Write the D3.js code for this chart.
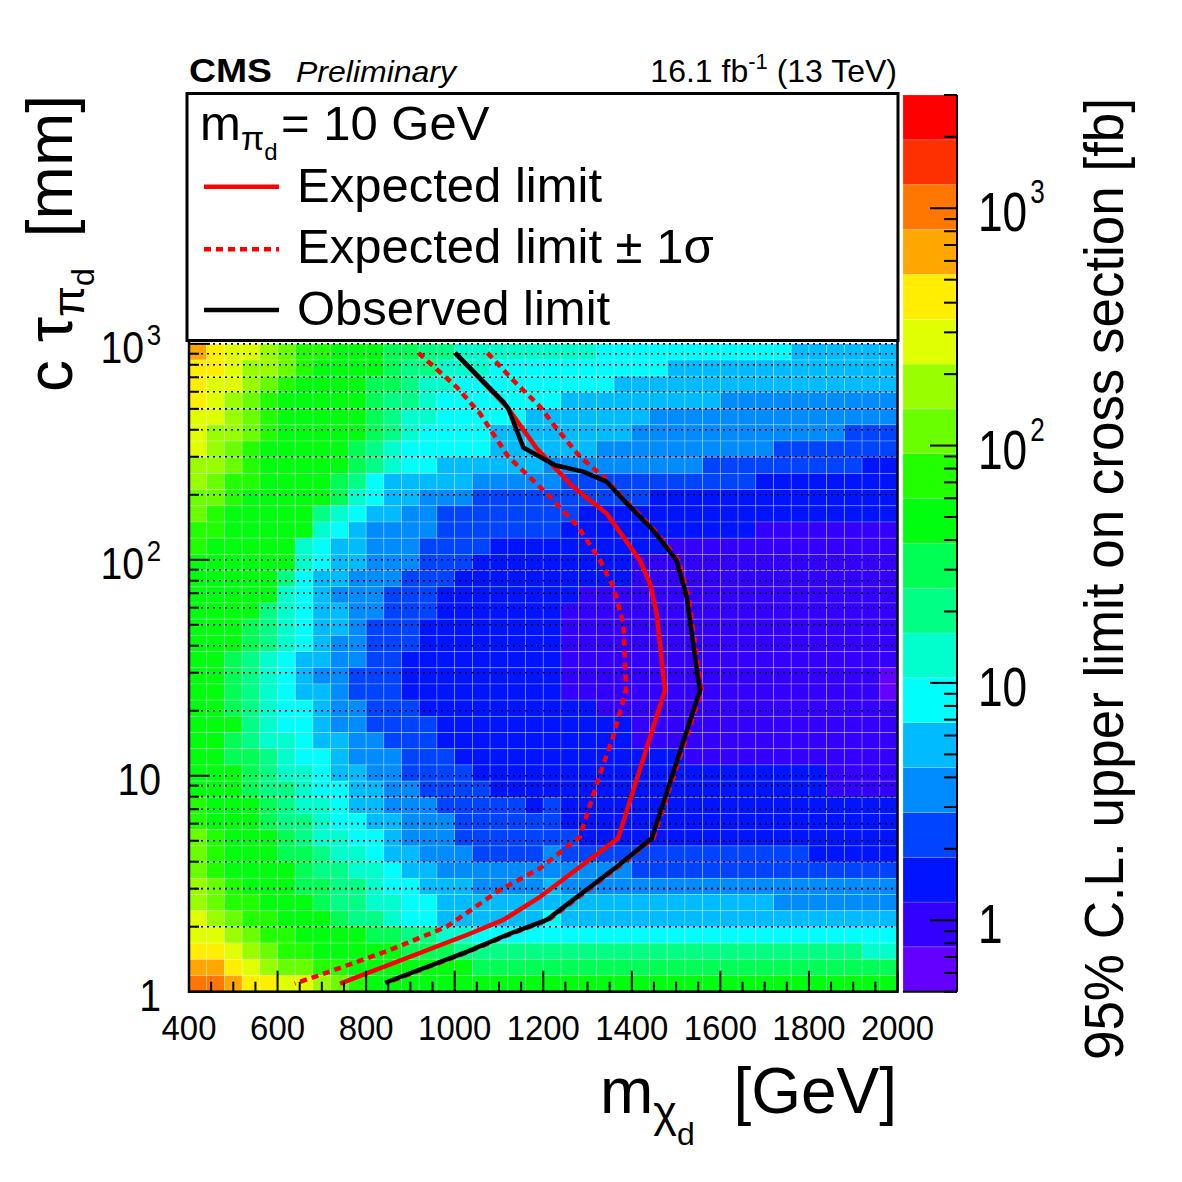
<!DOCTYPE html>
<html>
<head>
<meta charset="utf-8">
<title>CMS limit map</title>
<script src="https://cdn.jsdelivr.net/npm/d3@7"></script>
<style>
  body { margin: 0; background: #fff; }
  svg { display: block; font-family: "Liberation Sans", Arial, Helvetica, sans-serif; }
</style>
</head>
<body>
<svg width="1182" height="1182"></svg>
<script>
const svg = d3.select("svg");

// heatmap binning (40 x 40 cells, c tau binned in log)
const massEdges = d3.range(400, 2001, 40);
const ctauEdges = d3.range(41).map(i => Math.pow(10, 3 * i / 40));

// contour band read for every cell, 0 = lowest ... j = highest, top row first
const limitBands = [
  "gfeedcbbaa a998877777 7776666666 6666555555",
  "ffeddcbaaa a988777666 6666666555 5555555555",
  "feedcbaaaa 9987766666 6666555555 5555555555",
  "fedcbaaaaa 9887666666 6555555555 4444444444",
  "eedcbaaaaa 9877666665 5555554444 4444444444",
  "eddcbaaaaa 9876666555 5555544444 4444444333",
  "edcbaaaaa9 8766666555 5554444444 4443333333",
  "ddcbaaaaa9 8766555555 4444444443 3333333322",
  "dcbbaaaa98 6555554444 4333333333 3322222222",
  "ccbaaaaa97 6554443333 3333332222 2222222222",
  "cbaaaaa876 5544333333 3322222222 2222222222",
  "bbaaaaa765 4444333333 3222222222 2211111111",
  "baaaaa7655 4443333222 2222222111 1111111111",
  "aaaaaa7655 4443332222 2222211111 1111111111",
  "aaaaa86554 4433322222 2222211111 1111111111",
  "aaaaa76544 4333222222 2211111111 1111111111",
  "aaaa876554 4333222222 2111111111 1111111111",
  "aaa9876554 3332222222 2111111111 1111111111",
  "aaa9876544 3332222222 2111111111 1111111111",
  "aa98765544 3322222222 2111111111 1111111111",
  "aa98765443 3322222222 2111111111 1111111110",
  "aa98765543 3322222222 2111111111 1111111110",
  "aa98766544 3332222222 2221111111 1111111111",
  "aaa8766544 3333222222 2222211111 1111111111",
  "aa98776554 4333222222 2222211111 1111111111",
  "aa99876654 4433322222 2222222211 1111111111",
  "aaa9877655 4433332222 2222222222 2222221111",
  "aaa9887665 5443333222 2222222222 2222221111",
  "baaa987765 5444333332 3222222222 2222222222",
  "baaa988766 5544433333 3222222222 2222222222",
  "cbaaa98776 6544433333 3322222222 2222222222",
  "cbaaa99877 6554443333 4333333333 3333322222",
  "cbaaaa9887 7655444444 4444433333 3333333333",
  "dcbaaa9988 7665554444 5444444444 4444444444",
  "dcbbaaa988 7766555555 5555555555 5554444444",
  "edcbbaaa98 8766555555 6555555555 5555555555",
  "eedcbbaaaa 9988776666 6666666666 6666666666",
  "ffedcbbaaa aa99988888 8888888888 8888888877",
  "ggfedccbba aaaaaa9999 9999999999 9999999999",
  "hhgffeedcb aaaaaaaaaa aaaaaaaaaa aaaaaaaaaa"
];

// 20 contour colours, violet -> red
const palette = [
  "#6300ff", "#3300ff", "#0014ff", "#0044ff", "#008bff",
  "#00bbff", "#00fffc", "#00ffcc", "#00ff85", "#00ff55",
  "#00ff0e", "#22ff00", "#69ff00", "#99ff00", "#e0ff00",
  "#ffee00", "#ffa700", "#ff7700", "#ff3000", "#ff0000"
];
const xsRange = [0.5, 3000];

// limit curves, [m_X (GeV), c tau (mm)]
const observed = [
  [1001, 908], [1110, 539], [1121, 502], [1155, 331], [1177, 312], [1227, 274],
  [1290, 256], [1343, 230], [1388, 183], [1448, 137], [1501, 99.7], [1524, 67.4],
  [1547, 30.9], [1554, 24.9], [1445, 5.13], [1366, 3.79], [1208, 2.15],
  [1117, 1.83], [1027, 1.53], [843, 1.10]
];
const expected = [
  [1001, 908], [1121, 502], [1185, 328], [1267, 218], [1343, 164], [1418, 99.7],
  [1441, 77.8], [1456, 56.5], [1475, 24.9], [1369, 5.13], [1193, 2.75],
  [1110, 2.15], [1027, 1.83], [741, 1.09]
];
const expectedMinus = [
  [918, 908], [1004, 632], [1057, 476], [1121, 300], [1208, 203], [1279, 142],
  [1328, 99.7], [1358, 75], [1381, 50.8], [1387, 24.9], [1358, 15.2], [1321, 9.22],
  [1283, 5.22], [1193, 3.73], [1102, 2.96], [982, 2.0], [854, 1.56], [718, 1.24],
  [639, 1.09]
];
const expectedPlus = [
  [1074, 908], [1132, 679], [1193, 511], [1227, 413], [1283, 300], [1336, 242],
  [1392, 183], [1452, 137], [1505, 99.7], [1528, 67.4], [1551, 30.9], [1558, 24.9],
  [1449, 5.13], [1370, 3.79], [1212, 2.15], [1121, 1.83], [1031, 1.53], [847, 1.10]
];

const massTicks = [400, 600, 800, 1000, 1200, 1400, 1600, 1800, 2000];
const ctauLabels = [[1, "1", ""], [10, "10", ""], [100, "10", "2"], [1000, "10", "3"]];
const xsLabels = [[1, "1", ""], [10, "10", ""], [100, "10", "2"], [1000, "10", "3"]];

// scales
const x = d3.scaleLinear().domain([400, 2000]).range([189, 897.5]);
const y = d3.scaleLog().domain([1, 14200]).range([991.7, 95]);
const z = d3.scaleLog().domain(xsRange).range([991.7, 95]);

const xsLevels = d3.range(21).map(i => xsRange[0] * Math.pow(xsRange[1] / xsRange[0], i / 20));
const colour = d3.scaleThreshold().domain(xsLevels.slice(1, 20)).range(palette);

// cells
const cells = [];
limitBands.forEach((row, k) => {
  const r = 39 - k;
  row.replace(/ /g, "").split("").forEach((ch, c) => {
    const b = parseInt(ch, 20);
    cells.push({
      m0: massEdges[c], m1: massEdges[c + 1],
      t0: ctauEdges[r], t1: ctauEdges[r + 1],
      value: Math.sqrt(xsLevels[b] * xsLevels[b + 1])
    });
  });
});

svg.append("g").selectAll("rect")
  .data(cells)
  .enter()
  .append("rect")
  .attr("x", d => x(d.m0))
  .attr("y", d => y(d.t1))
  .attr("width", d => x(d.m1) - x(d.m0))
  .attr("height", d => y(d.t0) - y(d.t1))
  .attr("fill", d => colour(d.value))
  .attr("stroke", "rgba(255,255,255,0.3)")
  .attr("stroke-width", 0.8);

// dotted y grid at every log tick
const ctauTicks = [];
[1, 10, 100, 1000].forEach(p => d3.range(1, 10).forEach(m => ctauTicks.push(m * p)));
const gridVals = ctauTicks.filter(v => v > 1 && v <= 1000);
svg.append("g").selectAll("line")
  .data(gridVals)
  .enter()
  .append("line")
  .attr("x1", x(400)).attr("x2", x(2000))
  .attr("y1", d => y(d)).attr("y2", d => y(d))
  .attr("stroke", "#000")
  .attr("stroke-width", 1.6)
  .attr("stroke-dasharray", "2,4");

// limit curves
const line = d3.line().x(d => x(d[0])).y(d => y(d[1]));
const curves = svg.append("g").attr("fill", "none").attr("stroke-linejoin", "round");
[expectedMinus, expectedPlus].forEach(s => {
  curves.append("path").attr("d", line(s))
    .attr("stroke", "#ff0000").attr("stroke-width", 4.5).attr("stroke-dasharray", "7,5");
});
curves.append("path").attr("d", line(expected)).attr("stroke", "#ff0000").attr("stroke-width", 4.5);
curves.append("path").attr("d", line(observed)).attr("stroke", "#000").attr("stroke-width", 4.5);

// frame and ticks
const frame = svg.append("g").attr("stroke", "#000");
frame.append("rect")
  .attr("x", x(400)).attr("y", y(14200))
  .attr("width", x(2000) - x(400)).attr("height", y(1) - y(14200))
  .attr("fill", "none").attr("stroke-width", 2.5);

const xTickVals = d3.range(400, 2001, 50);
frame.selectAll(".xt").data(xTickVals).enter().append("line")
  .attr("x1", d => x(d)).attr("x2", d => x(d))
  .attr("y1", y(1)).attr("y2", d => y(1) - (d % 200 === 0 ? 21 : 10))
  .attr("stroke-width", 2);

frame.selectAll(".yt").data(ctauTicks.concat([10000])).enter().append("line")
  .attr("x1", x(400)).attr("x2", d => x(400) + ([1, 10, 100, 1000, 10000].includes(d) ? 21 : 10))
  .attr("y1", d => y(d)).attr("y2", d => y(d))
  .attr("stroke-width", 2);

// tick labels
svg.append("g").selectAll("g")
  .data(massTicks)
  .enter()
  .append("g")
  .attr("transform", d => `translate(${x(d)},1040) scale(0.94,1)`)
  .append("text")
  .attr("text-anchor", "middle")
  .attr("font-size", 35)
  .text(d => d);

const yl = svg.append("g").selectAll("g")
  .data(ctauLabels)
  .enter()
  .append("g")
  .attr("transform", d => `translate(161,${y(d[0]) + 19}) scale(0.89,1)`)
  .append("text")
  .attr("text-anchor", "end")
  .attr("font-size", 44);
yl.append("tspan").text(d => d[1]);
yl.append("tspan").attr("dx", 3).attr("dy", -18).attr("font-size", 29).text(d => d[2]);

// axis titles
svg.append("text")
  .attr("x", 600).attr("y", 1113).attr("font-size", 64)
  .call(t => {
    t.append("tspan").text("m");
    t.append("tspan").attr("dy", 14).attr("font-size", 45).text("\u03c7");
    t.append("tspan").attr("dy", 18).attr("font-size", 32).text("d");
  });
svg.append("text")
  .attr("x", 897).attr("y", 1113).attr("font-size", 64)
  .attr("text-anchor", "end").text("[GeV]");

const ytitle = svg.append("g").attr("transform", "translate(72,0) rotate(-90)");
ytitle.append("text")
  .attr("x", -392).attr("y", 0).attr("font-size", 64)
  .call(t => {
    t.append("tspan").text("c \u03c4");
    t.append("tspan").attr("dy", 12).attr("font-size", 45).text("\u03c0");
    t.append("tspan").attr("dy", 10).attr("font-size", 32).text("d");
  });
ytitle.append("text")
  .attr("x", -95).attr("y", 0).attr("font-size", 64)
  .attr("text-anchor", "end").text("[mm]");

// colour bar
const bar = svg.append("g");
bar.selectAll("rect")
  .data(d3.range(20))
  .enter()
  .append("rect")
  .attr("x", 903).attr("width", 54)
  .attr("y", i => z(xsLevels[i + 1]))
  .attr("height", i => z(xsLevels[i]) - z(xsLevels[i + 1]))
  .attr("fill", i => palette[i])
  .attr("stroke", "rgba(255,255,255,0.3)")
  .attr("stroke-width", 0.6);
bar.append("line").attr("x1", 957).attr("x2", 957).attr("y1", 95).attr("y2", 991.7)
  .attr("stroke", "#000").attr("stroke-width", 2);
bar.append("line").attr("x1", 903).attr("x2", 957).attr("y1", 991.7).attr("y2", 991.7)
  .attr("stroke", "#000").attr("stroke-width", 2);

const xsTicks = [];
[0.1, 1, 10, 100, 1000].forEach(p => d3.range(1, 10).forEach(m => xsTicks.push(m * p)));
bar.selectAll(".zt")
  .data(xsTicks.filter(v => v >= xsRange[0] && v <= xsRange[1]))
  .enter()
  .append("line")
  .attr("x1", 957).attr("x2", d => 957 - ([1, 10, 100, 1000].includes(d) ? 27 : 13))
  .attr("y1", d => z(d)).attr("y2", d => z(d))
  .attr("stroke", "#000").attr("stroke-width", 2);

const zl = svg.append("g").selectAll("g")
  .data(xsLabels)
  .enter()
  .append("g")
  .attr("transform", d => `translate(978,${z(d[0]) + 23}) scale(0.79,1)`)
  .append("text")
  .attr("font-size", 56);
zl.append("tspan").text(d => d[1]);
zl.append("tspan").attr("dx", 4).attr("dy", -28).attr("font-size", 33).text(d => d[2]);

svg.append("g").attr("transform", "translate(1123,0) rotate(-90)")
  .append("text")
  .attr("x", -1060).attr("y", 0)
  .attr("font-size", 56)
  .attr("textLength", 962)
  .attr("lengthAdjust", "spacingAndGlyphs")
  .text("95% C.L. upper limit on cross section  [fb]");

// legend
const leg = svg.append("g");
leg.append("rect")
  .attr("x", 187).attr("y", 93.5).attr("width", 711).attr("height", 247)
  .attr("fill", "#fff").attr("stroke", "#000").attr("stroke-width", 3);

leg.append("text")
  .attr("x", 200).attr("y", 140).attr("font-size", 49)
  .call(t => {
    t.append("tspan").text("m");
    t.append("tspan").attr("dy", 10).attr("font-size", 34).text("\u03c0");
    t.append("tspan").attr("dy", 10).attr("font-size", 24).text("d");
    t.append("tspan").attr("x", 281).attr("y", 140).text("= 10 GeV");
  });

const entries = [
  { label: "Expected limit", ly: 186.7, ty: 201.7, color: "#ff0000", dash: null },
  { label: "Expected limit \u00b1 1\u03c3", ly: 249.3, ty: 263.3, color: "#ff0000", dash: "7,5" },
  { label: "Observed limit", ly: 310, ty: 325, color: "#000", dash: null }
];
entries.forEach(e => {
  leg.append("line")
    .attr("x1", 204).attr("x2", 279).attr("y1", e.ly).attr("y2", e.ly)
    .attr("stroke", e.color).attr("stroke-width", 4.5)
    .attr("stroke-dasharray", e.dash);
  leg.append("text")
    .attr("x", 297).attr("y", e.ty).attr("font-size", 49)
    .text(e.label);
});

// header
svg.append("text")
  .attr("x", 189).attr("y", 82).attr("font-size", 34).attr("font-weight", "bold")
  .attr("textLength", 83).attr("lengthAdjust", "spacingAndGlyphs")
  .text("CMS");
svg.append("text")
  .attr("x", 296).attr("y", 82).attr("font-size", 30).attr("font-style", "italic")
  .attr("textLength", 160).attr("lengthAdjust", "spacingAndGlyphs")
  .text("Preliminary");
svg.append("text")
  .attr("x", 897).attr("y", 82).attr("font-size", 32).attr("text-anchor", "end")
  .call(t => {
    t.append("tspan").text("16.1 fb");
    t.append("tspan").attr("dy", -13).attr("font-size", 22).text("-1");
    t.append("tspan").attr("dy", 13).text(" (13 TeV)");
  });
</script>
</body>
</html>
